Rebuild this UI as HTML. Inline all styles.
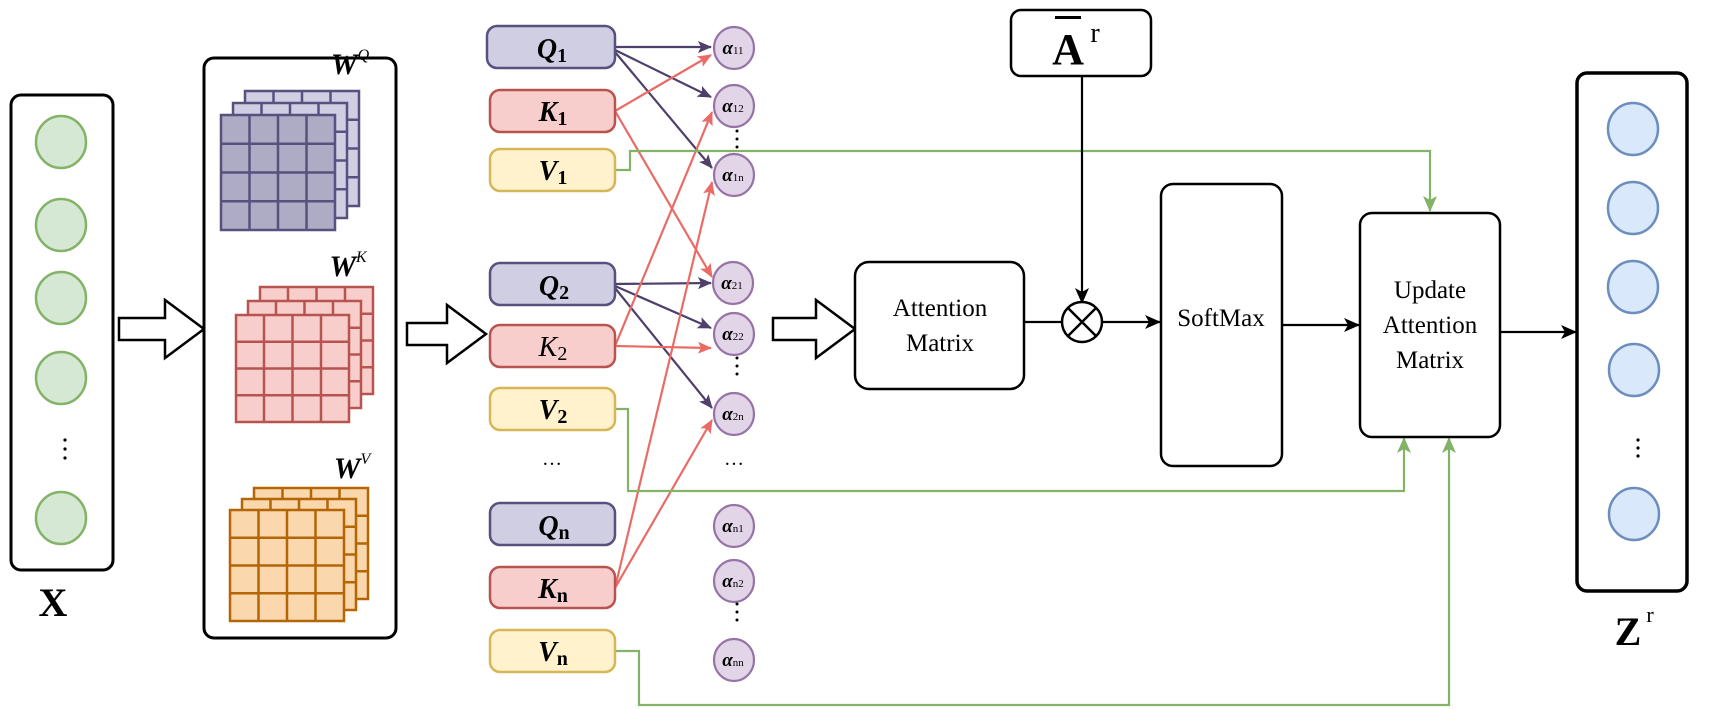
<!DOCTYPE html>
<html><head><meta charset="utf-8"><style>
html,body{margin:0;padding:0;background:#fff;}
svg{display:block;font-family:"Liberation Serif",serif;}
</style></head><body>
<svg width="1713" height="710" viewBox="0 0 1713 710" xmlns="http://www.w3.org/2000/svg">
<defs>
<marker id="ms" markerWidth="14" markerHeight="12" refX="13" refY="6" orient="auto" markerUnits="userSpaceOnUse"><path d="M0,0 L14,6 L0,12 L3,6z" fill="#ea6b66"/></marker>
<marker id="mpp" markerWidth="14" markerHeight="12" refX="13" refY="6" orient="auto" markerUnits="userSpaceOnUse"><path d="M0,0 L14,6 L0,12 L3,6z" fill="#4f3f6b"/></marker>
<marker id="mk" markerWidth="16" markerHeight="14" refX="15" refY="7" orient="auto" markerUnits="userSpaceOnUse"><path d="M0,0 L16,7 L0,14 L4,7z" fill="#000"/></marker>
<marker id="mg" markerWidth="16" markerHeight="14" refX="15" refY="7" orient="auto" markerUnits="userSpaceOnUse"><path d="M0,0 L16,7 L0,14 L4,7z" fill="#82b366"/></marker>
</defs>

<rect x="11" y="95" width="102" height="475" rx="10" fill="#fff" stroke="#000" stroke-width="3"/>
<g fill="#d5e8d4" stroke="#82b366" stroke-width="2.5">
<ellipse cx="61" cy="142" rx="25" ry="26"/><ellipse cx="61" cy="225" rx="25" ry="26"/><ellipse cx="61" cy="298" rx="25" ry="26"/><ellipse cx="61" cy="378" rx="25" ry="26"/><ellipse cx="61" cy="518" rx="25" ry="26"/>
</g>
<g fill="#000"><circle cx="65" cy="440" r="1.6"/><circle cx="65" cy="449" r="1.6"/><circle cx="65" cy="458" r="1.6"/></g>
<text x="53" y="616" font-size="40" font-weight="bold" text-anchor="middle">X</text>

<g fill="#fff" stroke="#000" stroke-width="2.5">
<path d="M119,318 L165,318 L165,300 L204,329 L165,358 L165,340 L119,340z"/>
<path d="M407,323 L447,323 L447,305 L486,334 L447,363 L447,345 L407,345z"/>
<path d="M773,318 L816,318 L816,300 L855,329 L816,358 L816,340 L773,340z"/>
</g>

<rect x="204" y="58" width="192" height="580" rx="10" fill="#fff" stroke="#000" stroke-width="3"/>
<g font-style="italic" font-weight="bold">
<text x="350" y="74" font-size="30" text-anchor="middle">W<tspan font-size="16" dy="-14" font-weight="normal">Q</tspan></text>
<text x="348" y="276" font-size="30" text-anchor="middle">W<tspan font-size="16" dy="-14" font-weight="normal">K</tspan></text>
<text x="352" y="478" font-size="30" text-anchor="middle">W<tspan font-size="16" dy="-14" font-weight="normal">V</tspan></text>
</g>
<g stroke="#56517e" stroke-width="2.5" fill="none">
<rect x="245" y="91" width="114" height="115" fill="#d0cee2"/>
<rect x="233" y="103" width="114" height="115" fill="#d0cee2"/>
<rect x="221" y="115" width="114" height="115" fill="#aeabc4"/>
<path d="M249.5,115V230M278,115V230M306.5,115V230M221,143.75H335M221,172.5H335M221,201.25H335"/>
<path d="M261.5,103V115M290,103V115M318.5,103V115M335,131.75H347M335,160.5H347M335,189.25H347"/>
<path d="M273.5,91V103M302,91V103M330.5,91V103M347,119.75H359M347,148.5H359M347,177.25H359"/>
</g>
<g stroke="#b85450" stroke-width="2.5" fill="none">
<rect x="260" y="287" width="113" height="107" fill="#f8cecc"/>
<rect x="248" y="301" width="113" height="107" fill="#f8cecc"/>
<rect x="236" y="315" width="113" height="107" fill="#f8cecc"/>
<path d="M264,315V422M292.5,315V422M321,315V422M236,341.75H349M236,368.5H349M236,395.25H349"/>
<path d="M276,301V315M304.5,301V315M333,301V315M349,327.75H361M349,354.5H361M349,381.25H361"/>
<path d="M288,287V301M316.5,287V301M345,287V301M361,313.75H373M361,340.5H373M361,367.25H373"/>
</g>
<g stroke="#b46504" stroke-width="2.5" fill="none">
<rect x="254" y="488" width="114" height="111" fill="#fad7ac"/>
<rect x="242" y="499" width="114" height="111" fill="#fad7ac"/>
<rect x="230" y="510" width="114" height="111" fill="#fad7ac"/>
<path d="M258.5,510V621M287,510V621M315.5,510V621M230,537.75H344M230,565.5H344M230,593.25H344"/>
<path d="M270.5,499V510M299,499V510M327.5,499V510M344,526.75H356M344,554.5H356M344,582.25H356"/>
<path d="M282.5,488V499M311,488V499M339.5,488V499M356,515.75H368M356,543.5H368M356,571.25H368"/>
</g>

<g fill="none" stroke-width="2.2">
<g stroke="#4f3f6b">
<line x1="615" y1="47" x2="711" y2="47" marker-end="url(#mpp)"/>
<line x1="615" y1="50" x2="711" y2="97" marker-end="url(#mpp)"/>
<line x1="615" y1="52" x2="712" y2="168" marker-end="url(#mpp)"/>
<line x1="615" y1="284" x2="711" y2="283" marker-end="url(#mpp)"/>
<line x1="615" y1="286" x2="711" y2="328" marker-end="url(#mpp)"/>
<line x1="615" y1="288" x2="712" y2="408" marker-end="url(#mpp)"/>
</g>
<g stroke="#ea6b66">
<line x1="615" y1="111" x2="711" y2="55" marker-end="url(#ms)"/>
<line x1="615" y1="111" x2="712" y2="277" marker-end="url(#ms)"/>
<line x1="615" y1="346" x2="712" y2="112" marker-end="url(#ms)"/>
<line x1="615" y1="346" x2="711" y2="348" marker-end="url(#ms)"/>
<line x1="615" y1="588" x2="712" y2="182" marker-end="url(#ms)"/>
<line x1="615" y1="588" x2="712" y2="420" marker-end="url(#ms)"/>
</g>
<g stroke="#82b366">
<polyline points="615,170 630,170 630,151 1430,151 1430,211" marker-end="url(#mg)"/>
<polyline points="615,409 628,409 628,491 1404,491 1404,438" marker-end="url(#mg)"/>
<polyline points="615,651 639,651 639,705 1449,705 1449,438" marker-end="url(#mg)"/>
</g>
<g stroke="#000">
<line x1="1082" y1="76" x2="1082" y2="303" marker-end="url(#mk)"/>
<line x1="1024" y1="322" x2="1061" y2="322"/>
<line x1="1103" y1="322" x2="1160" y2="322" marker-end="url(#mk)"/>
<line x1="1282" y1="325" x2="1359" y2="325" marker-end="url(#mk)"/>
<line x1="1500" y1="332" x2="1576" y2="332" marker-end="url(#mk)"/>
</g>
</g>

<g stroke-width="2.5">
<g fill="#d0cee2" stroke="#56517e">
<rect x="487" y="26" width="128" height="42" rx="10"/><rect x="490" y="263" width="125" height="42" rx="10"/><rect x="490" y="503" width="125" height="42" rx="10"/>
</g>
<g fill="#f8cecc" stroke="#b85450">
<rect x="490" y="90" width="125" height="42" rx="10"/><rect x="490" y="325" width="125" height="42" rx="10"/><rect x="490" y="567" width="125" height="41" rx="10"/>
</g>
<g fill="#fff2cc" stroke="#d6b656">
<rect x="490" y="149" width="125" height="42" rx="10"/><rect x="490" y="388" width="125" height="42" rx="10"/><rect x="490" y="630" width="125" height="42" rx="10"/>
</g>
</g>
<g font-size="28" font-style="italic" font-weight="bold" text-anchor="middle">
<text x="552" y="58">Q<tspan font-style="normal" font-size="20" dy="4">1</tspan></text>
<text x="553" y="121">K<tspan font-style="normal" font-size="20" dy="4">1</tspan></text>
<text x="553" y="180">V<tspan font-style="normal" font-size="20" dy="4">1</tspan></text>
<text x="554" y="295">Q<tspan font-style="normal" font-size="20" dy="4">2</tspan></text>
<text x="553" y="356" font-weight="normal">K<tspan font-style="normal" font-size="20" dy="4">2</tspan></text>
<text x="553" y="419">V<tspan font-style="normal" font-size="20" dy="4">2</tspan></text>
<text x="554" y="535">Q<tspan font-style="normal" font-size="20" dy="4">n</tspan></text>
<text x="553" y="598">K<tspan font-style="normal" font-size="20" dy="4">n</tspan></text>
<text x="553" y="661">V<tspan font-style="normal" font-size="20" dy="4">n</tspan></text>
</g>
<text x="552" y="465" font-size="20" text-anchor="middle">…</text>
<text x="734" y="465" font-size="20" text-anchor="middle">…</text>

<g fill="#e1d5e7" stroke="#9673a6" stroke-width="2.2">
<ellipse cx="734" cy="48" rx="20" ry="21"/><ellipse cx="734" cy="106" rx="20" ry="21"/><ellipse cx="734" cy="175" rx="20" ry="21"/>
<ellipse cx="733" cy="283" rx="20" ry="21"/><ellipse cx="734" cy="334" rx="20" ry="21"/><ellipse cx="734" cy="414" rx="20" ry="21"/>
<ellipse cx="734" cy="526" rx="20" ry="21"/><ellipse cx="734" cy="581" rx="20" ry="21"/><ellipse cx="734" cy="660" rx="20" ry="21"/>
</g>
<g fill="#000">
<circle cx="737" cy="131" r="1.5"/><circle cx="737" cy="139" r="1.5"/><circle cx="737" cy="147" r="1.5"/>
<circle cx="737" cy="358" r="1.5"/><circle cx="737" cy="366" r="1.5"/><circle cx="737" cy="374" r="1.5"/>
<circle cx="737" cy="604" r="1.5"/><circle cx="737" cy="612" r="1.5"/><circle cx="737" cy="620" r="1.5"/>
</g>
<g font-size="19" font-style="italic" font-weight="bold" text-anchor="middle">
<text x="733" y="54">α<tspan font-size="11" font-style="normal" font-weight="normal">11</tspan></text>
<text x="733" y="112">α<tspan font-size="11" font-style="normal" font-weight="normal">12</tspan></text>
<text x="733" y="181">α<tspan font-size="11" font-style="normal" font-weight="normal">1n</tspan></text>
<text x="732" y="289">α<tspan font-size="11" font-style="normal" font-weight="normal">21</tspan></text>
<text x="733" y="340">α<tspan font-size="11" font-style="normal" font-weight="normal">22</tspan></text>
<text x="733" y="420">α<tspan font-size="11" font-style="normal" font-weight="normal">2n</tspan></text>
<text x="733" y="532">α<tspan font-size="11" font-style="normal" font-weight="normal">n1</tspan></text>
<text x="733" y="587">α<tspan font-size="11" font-style="normal" font-weight="normal">n2</tspan></text>
<text x="733" y="666">α<tspan font-size="11" font-style="normal" font-weight="normal">nn</tspan></text>
</g>

<g fill="#fff" stroke="#000" stroke-width="2.5">
<rect x="855" y="262" width="169" height="127" rx="14"/>
<rect x="1011" y="10" width="140" height="66" rx="10"/>
<rect x="1161" y="184" width="121" height="282" rx="12"/>
<rect x="1360" y="213" width="140" height="224" rx="12"/>
<circle cx="1082" cy="322" r="20"/>
<path d="M1068,308 L1096,336 M1096,308 L1068,336"/>
</g>
<rect x="1577" y="73" width="110" height="518" rx="10" fill="#fff" stroke="#000" stroke-width="3.5"/>
<g font-size="25" text-anchor="middle">
<text x="940" y="316">Attention</text><text x="940" y="351">Matrix</text>
<text x="1221" y="326">SoftMax</text>
<text x="1430" y="298">Update</text><text x="1430" y="333">Attention</text><text x="1430" y="368">Matrix</text>
</g>
<text x="1068" y="64" font-size="44" font-weight="bold" text-anchor="middle">A</text>
<rect x="1055" y="16" width="26" height="3" fill="#000"/>
<text x="1095" y="42" font-size="28" text-anchor="middle">r</text>

<g fill="#dae8fc" stroke="#6c8ebf" stroke-width="2.5">
<ellipse cx="1633" cy="129" rx="25" ry="26"/><ellipse cx="1633" cy="208" rx="25" ry="26"/><ellipse cx="1633" cy="287" rx="25" ry="26"/><ellipse cx="1634" cy="370" rx="25" ry="26"/><ellipse cx="1634" cy="514" rx="25" ry="26"/>
</g>
<g fill="#000"><circle cx="1638" cy="440" r="1.6"/><circle cx="1638" cy="448" r="1.6"/><circle cx="1638" cy="456" r="1.6"/></g>
<text x="1628" y="645" font-size="40" font-weight="bold" text-anchor="middle">Z</text>
<text x="1650" y="622" font-size="22" text-anchor="middle">r</text>
</svg>
</body></html>
